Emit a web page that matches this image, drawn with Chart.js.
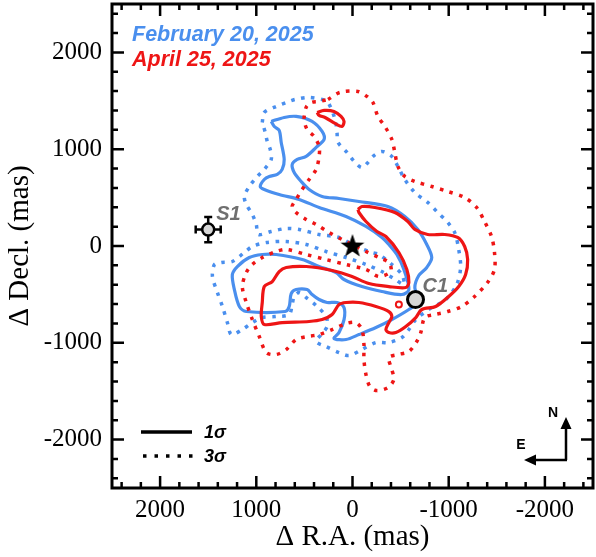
<!DOCTYPE html>
<html>
<head>
<meta charset="utf-8">
<script src="https://cdn.jsdelivr.net/npm/chart.js@4.4.1/dist/chart.umd.min.js"></script>
<style>
  html, body { margin: 0; padding: 0; background: #fff; }
</style>
</head>
<body>
<canvas id="c" width="596" height="557"></canvas>
<script>
(function() {
    'use strict';

    // tick labels (mas)
    var xTicks = [-2000, -1000, 0, 1000, 2000];
    var yTicks = [-2000, -1000, 0, 1000, 2000];

    // February 20, 2025 - 1 sigma contour (R.A., Decl. in mas)
    var febSolidRA = [845, 710, 586, 420, 316, 295, 378, 482, 575, 627, 606, 534, 451, 316, 140, -67, -368, -544, -679, -772,
        -824, -772, -689, -648, -689, -586, -409, -244, -67, 67, 192, 140, 88, 88, 161, 264, 347, 420, 472, 586,
        637, 658, 700, 1104, 1176, 1228, 1249, 1197, 1073, 938, 793, 523, 347, 171, 88, -98, -306, -513, -586, -534,
        -461, -378, -306, -140, 67, 347, 554, 762, 917, 959, 917, 865, 782, 731, 710, 741, 762, 813];
    var febSolidDec = [1287, 1328, 1339, 1287, 1183, 1101, 1018, 925, 894, 842, 760, 667, 584, 512, 491, 460, 408, 305, 171, 16,
        -119, -222, -305, -429, -574, -656, -760, -842, -915, -966, -956, -894, -760, -636, -584, -584, -553, -501, -450, -450,
        -491, -625, -677, -677, -625, -450, -295, -212, -119, -88, -88, -140, -212, -274, -346, -419, -470, -501, -450, -243,
        -88, 16, 88, 202, 305, 398, 481, 532, 584, 615, 687, 718, 739, 791, 894, 1070, 1194, 1235];

    // February 20, 2025 - 3 sigma contour
    var febDottedRA = [938, 917, 793, 658, 596, 461, 316, 254, 181, 161, 150, 57, -26, -98, -161, -212, -306, -409, -472, -544,
        -648, -782, -886, -990, -1062, -1104, -1124, -1083, -969, -793, -658, -586, -513, -378, -244, -98, 36, 140, 275, 378,
        326, 264, 275, 378, 482, 554, 606, 627, 658, 793, 938, 1041, 1145, 1259, 1301, 1352, 1404, 1456, 1435, 1363,
        1249, 1124, 1041, 896, 689, 482, 275, 67, -140, -306, -430, -534, -513, -409, -275, -202, -36, 140, 347, 554,
        689, 845, 979, 1000, 1041, 1104, 1124, 1073, 990, 917, 845, 855, 886, 907];
    var febDottedDec = [1276, 1380, 1442, 1494, 1514, 1535, 1514, 1483, 1307, 1173, 1070, 966, 863, 811, 863, 925, 977, 925, 822, 687,
        553, 450, 346, 243, 140, -36, -222, -398, -553, -656, -760, -863, -946, -997, -997, -1070, -1132, -1101, -1039, -987,
        -915, -832, -729, -615, -532, -481, -522, -605, -708, -729, -739, -791, -863, -915, -791, -625, -481, -315, -191, -171,
        -160, -67, -5, 36, 47, 16, -57, -119, -191, -264, -336, -398, -295, -191, -88, -67, -5, 88, 119, 171,
        181, 150, 119, 222, 326, 429, 512, 615, 718, 791, 894, 997, 1080, 1173];

    // April 25, 2025 - 1 sigma contours (main + small island at top)
    var aprSolidRA = [-57, -98, -233, -440, -575, -648, -782, -959, -1093, -1166, -1197, -1176, -1104, -1000, -865, -720, -658, -554, -451, -378,
        -347, -378, -409, -378, -244, -67, 67, 140, 212, 316, 451, 731, 917, 948, 938, 917, 834, 762, 689, 482,
        212, 5, -171, -378, -554, -586, -565, -482, -347, -254, -140, -67];
    var aprSolidDec = [377, 408, 398, 346, 253, 171, 119, 119, 88, -5, -140, -295, -419, -522, -625, -656, -739, -832, -894, -894,
        -863, -791, -729, -677, -625, -584, -584, -605, -708, -760, -780, -791, -811, -729, -584, -419, -367, -264, -222, -212,
        -253, -315, -388, -419, -429, -377, -243, -67, 98, 150, 253, 346];
    var aprIslandRA = [368, 295, 192, 119, 88, 109, 181, 285, 347];
    var aprIslandDec = [1380, 1401, 1390, 1339, 1287, 1235, 1266, 1328, 1349];

    // April 25, 2025 - 3 sigma contour
    var aprDottedRA = [254, 130, -57, -150, -212, -264, -337, -409, -440, -472, -544, -648, -824, -990, -1166, -1290, -1373, -1445, -1476, -1476,
        -1404, -1269, -1135, -990, -855, -751, -710, -668, -586, -472, -378, -409, -430, -368, -254, -181, -140, -119, -119, -98,
        -36, 67, 212, 347, 472, 586, 689, 793, 896, 969, 1041, 1104, 1145, 1104, 1041, 938, 793, 689, 482, 275,
        67, -140, -275, -399, -378, -275, -140, -36, 109, 244, 378, 482, 586, 627, 586, 523, 451, 378, 347, 347,
        399, 472, 503, 482, 430, 347];
    var aprDottedDec = [1514, 1587, 1597, 1545, 1483, 1339, 1235, 1101, 966, 822, 718, 667, 615, 563, 501, 398, 253, 98, -67, -243,
        -377, -522, -625, -677, -708, -739, -894, -987, -1090, -1121, -1152, -1276, -1380, -1463, -1494, -1452, -1328, -1173, -1018, -863,
        -791, -801, -863, -915, -935, -966, -1070, -1121, -1101, -935, -760, -584, -419, -274, -191, -119, -57, -36, -88, -140,
        -191, -243, -315, -264, -171, -119, -57, -5, 67, 140, 222, 274, 346, 408, 481, 584, 687, 791, 925, 1028,
        1132, 1204, 1307, 1432, 1483, 1494];

    // sources
    var starPos = [0, 0];
    var s1Pos = [1500, 170];
    var s1Err = [130, 130];
    var c1Pos = [-655, -553];
    var redDotPos = [-482, -605];

    var BLUE = '#4a8fee';
    var RED = '#ee1515';
    var GREY = '#6f6f6f';
    var SERIF = '"Liberation Serif", "Times New Roman", serif';
    var SANS = '"Liberation Sans", Arial, sans-serif';

    function closedPoints(ra, dec) {
        var out = ra.map(function(x, i) { return { x: x, y: dec[i] }; });
        out.push(out[0]);
        return out;
    }

    function contour(ra, dec, color, dotted) {
        return {
            data: closedPoints(ra, dec),
            showLine: true,
            borderColor: color,
            borderWidth: dotted ? 3.5 : 3.2,
            borderDash: dotted ? [3.5, 6.5] : [],
            borderCapStyle: 'butt',
            borderJoinStyle: 'round',
            pointRadius: 0,
            pointHoverRadius: 0,
            tension: 0.3,
            fill: false
        };
    }

    // filled five-point star used as the point style of the central star
    var starImg = document.createElement('canvas');
    starImg.width = 28;
    starImg.height = 28;
    (function() {
        var g = starImg.getContext('2d');
        var R = 12.5, r = 5.0;
        g.beginPath();
        for (var i = 0; i < 10; i++) {
            var rad = (i % 2 === 0) ? R : r;
            var a = -Math.PI / 2 + i * Math.PI / 5;
            var px = 14 + rad * Math.cos(a), py = 14.5 + rad * Math.sin(a);
            if (i === 0) g.moveTo(px, py); else g.lineTo(px, py);
        }
        g.closePath();
        g.fillStyle = '#000';
        g.fill();
    })();

    // no label overhang padding: keep the plot box fixed
    function noPad(s) {
        s.paddingLeft = 0; s.paddingRight = 0; s.paddingTop = 0; s.paddingBottom = 0;
    }

    var decor = {
        id: 'decor',
        beforeDatasetsDraw: function(chart) {
            var xs = chart.scales.x, ys = chart.scales.y, c = chart.ctx;
            // S1 error bars
            var px = xs.getPixelForValue(s1Pos[0]), py = ys.getPixelForValue(s1Pos[1]);
            var xa = xs.getPixelForValue(s1Pos[0] - s1Err[0]), xb = xs.getPixelForValue(s1Pos[0] + s1Err[0]);
            var ya = ys.getPixelForValue(s1Pos[1] - s1Err[1]), yb = ys.getPixelForValue(s1Pos[1] + s1Err[1]);
            c.save();
            c.strokeStyle = '#000';
            c.lineWidth = 2.5;
            c.beginPath();
            c.moveTo(xa, py); c.lineTo(xb, py);
            c.moveTo(px, ya); c.lineTo(px, yb);
            c.moveTo(xa, py - 4); c.lineTo(xa, py + 4);
            c.moveTo(xb, py - 4); c.lineTo(xb, py + 4);
            c.moveTo(px - 4, ya); c.lineTo(px + 4, ya);
            c.moveTo(px - 4, yb); c.lineTo(px + 4, yb);
            c.stroke();
            c.restore();
        },
        afterDatasetsDraw: function(chart) {
            var xs = chart.scales.x, ys = chart.scales.y, c = chart.ctx;
            var a = chart.chartArea;
            c.save();

            // frame + inward ticks on all sides
            c.strokeStyle = '#000';
            c.lineWidth = 3;
            c.strokeRect(a.left, a.top, a.right - a.left, a.bottom - a.top);
            c.lineWidth = 2.5;
            c.beginPath();
            for (var v = -2400; v <= 2400; v += 200) {
                var len = (v % 1000 === 0) ? 12 : 6;
                var x = xs.getPixelForValue(v);
                c.moveTo(x, a.bottom); c.lineTo(x, a.bottom - len);
                c.moveTo(x, a.top); c.lineTo(x, a.top + len);
                var y = ys.getPixelForValue(v);
                c.moveTo(a.left, y); c.lineTo(a.left + len, y);
                c.moveTo(a.right, y); c.lineTo(a.right - len, y);
            }
            c.stroke();

            // source labels
            c.fillStyle = GREY;
            c.font = 'italic bold 20px ' + SANS;
            c.textBaseline = 'alphabetic';
            c.textAlign = 'left';
            c.fillText('S1', xs.getPixelForValue(s1Pos[0]) + 8, ys.getPixelForValue(s1Pos[1]) - 10);
            c.fillText('C1', xs.getPixelForValue(c1Pos[0]) + 7, ys.getPixelForValue(c1Pos[1]) - 8);

            // epoch labels
            c.font = 'italic bold 21.5px ' + SANS;
            c.fillStyle = BLUE;
            c.fillText('February 20, 2025', 132, 41);
            c.fillStyle = RED;
            c.fillText('April 25, 2025', 132, 66);

            // line style key
            c.strokeStyle = '#000';
            c.lineWidth = 3.5;
            c.beginPath();
            c.moveTo(141, 432); c.lineTo(192, 432);
            c.stroke();
            c.setLineDash([3.5, 8]);
            c.beginPath();
            c.moveTo(143, 456); c.lineTo(194, 456);
            c.stroke();
            c.setLineDash([]);
            c.fillStyle = '#000';
            c.font = 'italic bold 18px ' + SANS;
            c.textBaseline = 'middle';
            c.fillText('1\u03c3', 204, 433);
            c.fillText('3\u03c3', 204, 457);

            // compass
            c.lineWidth = 2.5;
            c.beginPath();
            c.moveTo(566, 460); c.lineTo(566, 426);
            c.moveTo(567, 460); c.lineTo(531, 460);
            c.stroke();
            c.beginPath();
            c.moveTo(566, 417); c.lineTo(560.5, 429); c.lineTo(571.5, 429); c.closePath();
            c.moveTo(524, 460); c.lineTo(536, 454.5); c.lineTo(536, 465.5); c.closePath();
            c.fill();
            c.font = 'bold 14px ' + SANS;
            c.textAlign = 'center';
            c.fillText('N', 553, 413);
            c.fillText('E', 521, 445);

            c.restore();
        }
    };

    var datasets = [
        { data: [{ x: starPos[0], y: starPos[1] }], pointStyle: starImg, pointRadius: 13, pointHoverRadius: 13 },
        { data: [{ x: c1Pos[0], y: c1Pos[1] }], pointRadius: 8, pointHoverRadius: 8, backgroundColor: '#d6d6d6', borderColor: '#000', borderWidth: 3 },
        { data: [{ x: s1Pos[0], y: s1Pos[1] }], pointRadius: 6, pointHoverRadius: 6, backgroundColor: '#d6d6d6', borderColor: '#000', borderWidth: 2.5 },
        { data: [{ x: redDotPos[0], y: redDotPos[1] }], pointRadius: 3, pointHoverRadius: 3, backgroundColor: '#fff', borderColor: RED, borderWidth: 2 },
        contour(aprIslandRA, aprIslandDec, RED, false),
        contour(aprSolidRA, aprSolidDec, RED, false),
        contour(aprDottedRA, aprDottedDec, RED, true),
        contour(febSolidRA, febSolidDec, BLUE, false),
        contour(febDottedRA, febDottedDec, BLUE, true)
    ];

    var tickFont = { family: SERIF, size: 25 };
    var titleFont = { family: SERIF, size: 29 };

    new Chart(document.getElementById('c').getContext('2d'), {
        type: 'scatter',
        data: { datasets: datasets },
        options: {
            responsive: false,
            animation: false,
            devicePixelRatio: 1,
            layout: { autoPadding: false, padding: { top: 4, right: 3, left: 0, bottom: 0 } },
            plugins: { legend: { display: false }, tooltip: { enabled: false } },
            scales: {
                x: {
                    type: 'linear',
                    position: 'bottom',
                    reverse: true,
                    min: -2500,
                    max: 2500,
                    afterFit: function(s) { s.height = 69; noPad(s); },
                    afterBuildTicks: function(s) { s.ticks = xTicks.map(function(v) { return { value: v }; }); },
                    grid: { display: false, drawTicks: false },
                    border: { display: false },
                    ticks: {
                        font: tickFont, color: '#000', padding: 7,
                        maxRotation: 0, autoSkip: false,
                        callback: function(v) { return String(v); }
                    },
                    title: { display: true, text: '\u0394 R.A. (mas)', font: titleFont, color: '#000', padding: { top: 0, bottom: 2 } }
                },
                y: {
                    type: 'linear',
                    position: 'left',
                    min: -2500,
                    max: 2500,
                    afterFit: function(s) { s.width = 112; noPad(s); },
                    afterBuildTicks: function(s) { s.ticks = yTicks.map(function(v) { return { value: v }; }); },
                    grid: { display: false, drawTicks: false },
                    border: { display: false },
                    ticks: {
                        font: tickFont, color: '#000', padding: 10,
                        autoSkip: false,
                        callback: function(v) { return String(v); }
                    },
                    title: { display: true, text: '\u0394 Decl. (mas)', font: titleFont, color: '#000', padding: { top: 3, bottom: 0 } }
                }
            }
        },
        plugins: [decor]
    });
})();
</script>
</body>
</html>
